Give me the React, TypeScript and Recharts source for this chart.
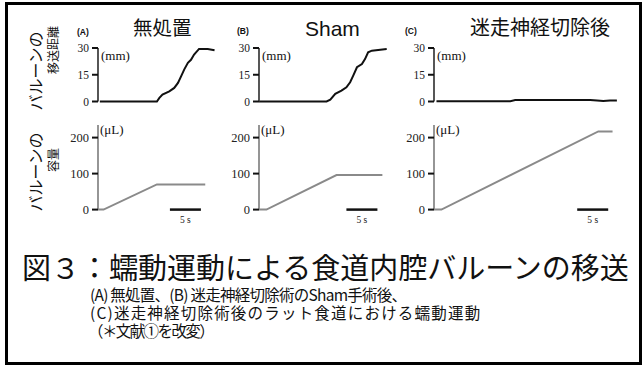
import React from "react";
import { LineChart, Line, XAxis, YAxis, ReferenceLine } from "recharts";

const SERIF = '"Liberation Serif", "DejaVu Serif", "Noto Serif", Times, serif';
const SANS = '"Liberation Sans", Arial, sans-serif';
const JP = '"Noto Sans CJK JP", "Noto Sans CJK SC", sans-serif';

// horizontal scale shared by all traces
const PX_PER_S = 6.2;

const panelTags = ["(A)", "(B)", "(C)"];
const panelTitles = ["無処置", "Sham", "迷走神経切除後"];

// y axes
const distTicks = [0, 15, 30];
const distMax = 30;
const volTicks = [0, 100, 200];
const volMax = 235;

// balloon displacement (mm) over time (s)
const naiveDistT = [0.3, 9.5, 9.9, 10.4, 11.5, 12.3, 12.9, 13.4, 13.9, 14.5, 15.0, 15.5, 16.3, 17.7, 18.8];
const naiveDist = [0, 0, 2, 3.9, 5.7, 7.6, 10.4, 14.1, 17.9, 21.7, 23.4, 26.3, 29.5, 29.5, 28.8];

const shamDistT = [0, 10.9, 11.5, 12.3, 13.3, 14.1, 14.7, 15.2, 15.8, 16.6, 17.1, 17.6, 18.2, 20.6];
const shamDist = [0, 0, 1, 4.3, 6.1, 8, 10.8, 14.5, 19.2, 21, 23.8, 27.6, 28.5, 29.4];

const vagDistT = [0.4, 5.8, 12.3, 13.1, 16.5, 20.3, 25.2, 26.3, 27.3, 28.4, 29.5];
const vagDist = [0.1, 0.1, 0.2, 0.8, 0.9, 0.9, 0.8, 0.6, 0.3, 0.5, 0.6];

// balloon volume (μL) over time (s)
const naiveVolT = [0, 0.9, 9.5, 17.3];
const naiveVol = [0, 0, 70, 70];

const shamVolT = [0, 1.2, 12.5, 19.9];
const shamVol = [0, 0, 96, 96];

const vagVolT = [0, 1.2, 26.5, 28.8];
const vagVol = [0, 0, 217, 217];

// 5 s scale bar start (s)
const scaleBarStart = [11.6, 14.1, 23.1];

const zip = (t: number[], v: number[]) => t.map((x, i) => ({ t: x, v: v[i] }));

const distData = [zip(naiveDistT, naiveDist), zip(shamDistT, shamDist), zip(vagDistT, vagDist)];
const volData = [zip(naiveVolT, naiveVol), zip(shamVolT, shamVol), zip(vagVolT, vagVol)];

const axisX = [98, 259, 434];

type TraceProps = {
  data: { t: number; v: number }[];
  left: number;
  top: number;
  plotH: number;
  max: number;
  ticks: number[];
  color: string;
  axisColor: string;
  fontSize: number;
  bar?: number;
};

function Trace({ data, left, top, plotH, max, ticks, color, axisColor, fontSize, bar }: TraceProps) {
  const tMax = data[data.length - 1].t;
  const plotW = tMax * PX_PER_S;
  const m = { top: 10, right: 4, bottom: 24, left: 0 };
  const yW = 40;
  return (
    <div style={{ position: "absolute", left: left - yW, top: top - m.top }}>
      <LineChart width={yW + plotW + m.right} height={m.top + plotH + m.bottom} data={data} margin={m}>
        <XAxis type="number" dataKey="t" domain={[0, tMax]} hide />
        <YAxis
          type="number"
          domain={[0, max]}
          ticks={ticks}
          interval={0}
          width={yW}
          tickSize={6}
          tickMargin={3}
          axisLine={{ stroke: axisColor, strokeWidth: 1.8 }}
          tickLine={{ stroke: "#111", strokeWidth: 2 }}
          tick={{ fill: "#222", fontSize, fontFamily: SERIF }}
        />
        <Line
          type="linear"
          dataKey="v"
          stroke={color}
          strokeWidth={2}
          dot={false}
          isAnimationActive={false}
        />
        {bar != null && (
          <ReferenceLine
            segment={[
              { x: bar, y: 0 },
              { x: bar + 5, y: 0 },
            ]}
            stroke="#111"
            strokeWidth={2.5}
            label={{ value: "5 s", position: "bottom", offset: 7, fontSize: 9.5, fontFamily: SERIF, fill: "#222" }}
          />
        )}
      </LineChart>
    </div>
  );
}

const abs = (left: number, top: number, extra: React.CSSProperties = {}): React.CSSProperties => ({
  position: "absolute",
  left,
  top,
  whiteSpace: "nowrap",
  lineHeight: 1,
  color: "#111",
  ...extra,
});

const rotated = (cx: number, cy: number, size: number): React.CSSProperties => ({
  position: "absolute",
  left: cx,
  top: cy,
  transform: "translate(-50%, -50%) rotate(-90deg)",
  whiteSpace: "nowrap",
  lineHeight: 1,
  fontSize: size,
  fontFamily: JP,
  color: "#111",
});

export default function App() {
  return (
    <div
      style={{
        position: "absolute",
        left: 0,
        top: 0,
        width: 643,
        height: 365,
        background: "#fff",
        overflow: "hidden",
      }}
    >
      <div
        style={{
          position: "absolute",
          left: 5,
          top: 2,
          width: 631,
          height: 357,
          border: "3px solid #000",
        }}
      />

      {/* row labels */}
      <div style={rotated(35, 71, 16)}>バルーンの</div>
      <div style={rotated(53, 50, 12)}>移送距離</div>
      <div style={rotated(35, 172, 16)}>バルーンの</div>
      <div style={rotated(53, 160, 12)}>容量</div>

      {/* panel tags and titles */}
      <div style={abs(77, 28, { fontSize: 8.5, fontWeight: 700, fontFamily: SANS })}>{panelTags[0]}</div>
      <div style={abs(237, 27, { fontSize: 8.5, fontWeight: 700, fontFamily: SANS })}>{panelTags[1]}</div>
      <div style={abs(405, 27, { fontSize: 8.5, fontWeight: 700, fontFamily: SANS })}>{panelTags[2]}</div>
      <div style={abs(133, 17, { fontSize: 19.5, fontFamily: JP })}>{panelTitles[0]}</div>
      <div style={abs(305, 18, { fontSize: 21, fontFamily: SANS })}>{panelTitles[1]}</div>
      <div style={abs(470, 17, { fontSize: 20, fontFamily: JP })}>{panelTitles[2]}</div>

      {axisX.map((x, i) => (
        <React.Fragment key={i}>
          <Trace
            data={distData[i]}
            left={x}
            top={48}
            plotH={53.5}
            max={distMax}
            ticks={distTicks}
            color="#111"
            axisColor="#444"
            fontSize={11.5}
          />
          <Trace
            data={volData[i]}
            left={x}
            top={124.7}
            plotH={84.6}
            max={volMax}
            ticks={volTicks}
            color="#8a8a8a"
            axisColor="#8a8a8a"
            fontSize={12.5}
            bar={scaleBarStart[i]}
          />
          <div style={abs(x + 3, 49, { fontSize: 13, fontFamily: SERIF })}>(mm)</div>
          <div style={abs(x + 2, 123, { fontSize: 13, fontFamily: SERIF })}>(μL)</div>
        </React.Fragment>
      ))}

      {/* caption */}
      <div style={abs(22, 252, { fontSize: 29, fontFamily: JP })}>
        図３：蠕動運動による食道内腔バルーンの移送
      </div>
      <div style={abs(90, 287, { fontSize: 15.5, fontFamily: JP, letterSpacing: -0.75 })}>
        (A) 無処置、(B) 迷走神経切除術のSham手術後、
      </div>
      <div style={abs(90, 305, { fontSize: 15.5, fontFamily: JP, letterSpacing: 1.2 })}>
        (C)迷走神経切除術後のラット食道における蠕動運動
      </div>
      <div style={abs(88, 323, { fontSize: 15.5, fontFamily: JP, letterSpacing: -1.6 })}>（＊文献①を改変）</div>
    </div>
  );
}
